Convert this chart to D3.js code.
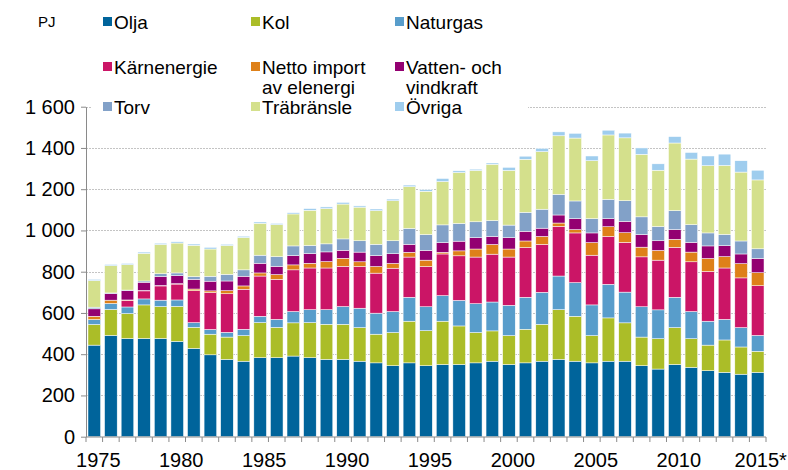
<!DOCTYPE html>
<html><head><meta charset="utf-8">
<script src="https://cdn.jsdelivr.net/npm/d3@7"></script>
<style>
body{margin:0;background:#fff}
svg{display:block;font-family:"Liberation Sans",Arial,sans-serif}
</style>
</head><body><svg id="c" width="788" height="470"></svg>
<script>
const years = [1975,1976,1977,1978,1979,1980,1981,1982,1983,1984,1985,1986,1987,1988,1989,1990,1991,1992,1993,1994,1995,1996,1997,1998,1999,2000,2001,2002,2003,2004,2005,2006,2007,2008,2009,2010,2011,2012,2013,2014,2015];
const olja        = [444,491,476,476,476,462,428,397,375,366,383,383,391,383,375,375,366,358,344,358,344,350,350,358,366,350,358,366,375,366,358,366,366,344,328,350,336,320,312,303,312];
const kol         = [100,126,121,163,155,170,102,100,108,124,170,147,161,170,170,170,163,139,161,202,170,210,187,147,147,140,163,179,241,218,132,210,186,139,147,179,139,124,157,132,102];
const naturgas    = [24,29,32,29,31,31,23,23,23,31,31,39,55,63,71,86,94,102,102,116,116,124,124,140,140,147,155,155,163,163,149,163,149,147,140,147,132,116,100,94,77];
const karnenergie = [0,0,32,39,69,77,155,179,187,194,195,194,202,202,202,195,202,194,210,195,195,202,216,226,232,234,241,232,241,241,241,232,241,242,241,242,241,241,249,241,241];
const nettoImport = [16,16,2,2,2,2,8,8,15,16,15,23,24,23,31,39,23,32,23,23,31,8,24,39,47,39,32,39,16,16,61,47,47,47,47,39,47,63,55,69,63];
const vatten      = [36,32,45,40,44,39,47,47,47,47,47,40,45,47,47,39,47,53,47,39,47,47,47,55,39,55,47,40,39,53,47,39,55,61,47,47,47,61,53,47,69];
const torv        = [8,3,3,6,13,13,13,24,32,31,39,47,47,39,39,55,55,55,63,77,77,86,86,77,77,61,92,92,100,86,69,94,100,86,69,92,86,63,55,63,47];
const trabransle  = [129,132,123,134,142,145,152,132,140,157,155,155,155,171,171,169,163,163,194,202,210,210,247,249,273,265,257,279,284,305,281,312,305,303,273,328,318,326,334,334,334];
const ovriga      = [6,6,6,6,6,6,6,8,6,6,6,6,6,8,8,8,6,8,8,8,8,15,8,6,6,15,15,16,19,23,23,23,23,31,31,31,32,47,55,55,47];

const seriesNames = ["Olja","Kol","Naturgas","Kärnenergie","Netto import av elenergi","Vatten- och vindkraft","Torv","Träbränsle","Övriga"];
const seriesData = [olja,kol,naturgas,karnenergie,nettoImport,vatten,torv,trabransle,ovriga];
const colors = ["#00649b","#abbd28","#589dcb","#cb1566","#de8019","#930071","#82a1c8","#d4e08c","#9fcdee"];
const yTicks = [0,200,400,600,800,1000,1200,1400,1600];
const xLabels = {1975:"1975",1980:"1980",1985:"1985",1990:"1990",1995:"1995",2000:"2000",2005:"2005",2010:"2010",2015:"2015*"};
const unitLabel = "PJ";

const rows = years.map((yr,i)=>{
  const r = {year:yr};
  seriesNames.forEach((n,k)=>{ r[n] = seriesData[k][i]; });
  return r;
});

const svg = d3.select("#c");
const x = d3.scaleBand().domain(years).range([86,766]).paddingInner(0.24).paddingOuter(0.12);
const y = d3.scaleLinear().domain([0,1600]).range([436.7,106.7]);
const fmt = d3.formatLocale({decimal:",",thousands:" ",grouping:[3],currency:["",""]}).format(",");

// gridlines
svg.append("g").selectAll("line").data(yTicks.filter(d=>d>0)).join("line")
  .attr("x1",86).attr("x2",766).attr("y1",d=>Math.round(y(d))+0.5).attr("y2",d=>Math.round(y(d))+0.5)
  .attr("stroke","#c4c4c4").attr("stroke-width",1).attr("stroke-dasharray","2,1");

// bars
const stack = d3.stack().keys(seriesNames)(rows);
svg.append("g").selectAll("g").data(stack).join("g")
  .attr("fill",(d,i)=>colors[i])
  .selectAll("rect").data(d=>d).join("rect")
  .attr("x",d=>x(d.data.year)).attr("width",x.bandwidth())
  .attr("y",d=>y(d[1])).attr("height",d=>Math.max(0,y(d[0])-y(d[1])))
  .attr("stroke","#ffffff").attr("stroke-width",0.5);

// y axis
const yAxis = svg.append("g").attr("transform","translate(86,0)")
  .call(d3.axisLeft(y).tickValues(yTicks).tickSize(5).tickSizeOuter(0).tickFormat(d=>fmt(d)).tickPadding(6));
yAxis.select(".domain").attr("stroke","#8a8a8a");
yAxis.selectAll(".tick line").attr("stroke","#8a8a8a");
yAxis.selectAll(".tick text").attr("font-size",20).attr("fill","#000").attr("font-family","'Liberation Sans',Arial,sans-serif");

// x axis
const step = x.step();
const bounds = years.map(yr=>x(yr)-x.paddingOuter()*step);
bounds.push(x(years[years.length-1])+x.bandwidth()+x.paddingOuter()*step);
const xg = svg.append("g");
xg.append("line").attr("x1",86).attr("x2",766).attr("y1",437).attr("y2",437).attr("stroke","#8a8a8a");
xg.selectAll("line.t").data(bounds).join("line").attr("class","t")
  .attr("x1",d=>d).attr("x2",d=>d).attr("y1",437).attr("y2",442).attr("stroke","#8a8a8a");
xg.selectAll("text").data(years.filter(yr=>xLabels[yr])).join("text")
  .attr("x",d=>x(d)+x.bandwidth()/2+ (xLabels[d].length>4?3:4)).attr("y",467)
  .attr("text-anchor","middle").attr("font-size",20).attr("fill","#000")
  .text(d=>xLabels[d]);

// unit
svg.append("text").attr("x",38).attr("y",27).attr("font-size",15).text(unitLabel);

// legend
const lg = svg.append("g");
lg.append("rect").attr("x",92).attr("y",0).attr("width",436).attr("height",121).attr("fill","#fff");
const colX = [103,251,395];
const rowY = [29,74,114];
const legendLines = [["Olja"],["Kol"],["Naturgas"],["Kärnenergie"],["Netto import","av elenergi"],["Vatten- och","vindkraft"],["Torv"],["Träbränsle"],["Övriga"]];
seriesNames.forEach((n,i)=>{
  const cx = colX[i%3], cy = rowY[Math.floor(i/3)];
  const g = lg.append("g");
  g.append("rect").attr("x",cx).attr("y",cy-12).attr("width",9).attr("height",9).attr("fill",colors[i]);
  g.append("text").attr("x",cx+11).attr("y",cy).attr("font-size",19).attr("fill","#000")
    .selectAll("tspan").data(legendLines[i]).join("tspan")
    .attr("x",cx+11).attr("dy",(d,j)=>j===0?0:20).text(d=>d);
});
</script>
</body></html>
